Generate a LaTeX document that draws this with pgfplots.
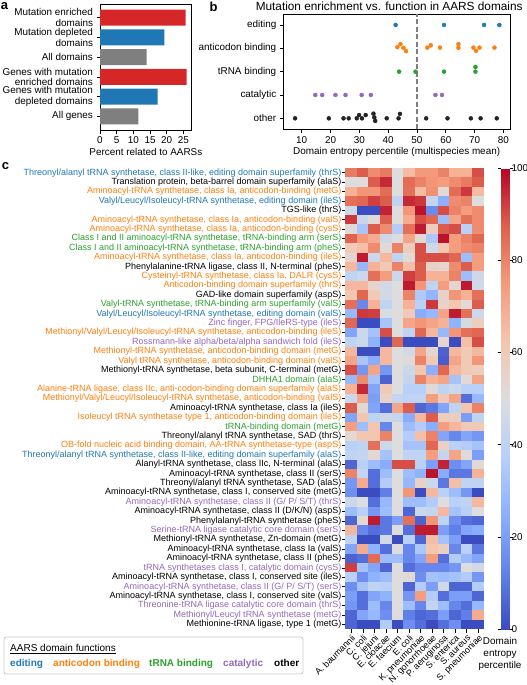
\documentclass[border=0pt]{standalone}
\usepackage{fontspec}
\setmainfont{Liberation Sans}
\usepackage{pgfplots}
\usepackage{pgfplotstable}
\pgfplotsset{compat=1.18}
\pgfplotsset{/pgf/number format/assume math mode=true}
\definecolor{cB}{HTML}{1F77B4}
\definecolor{cO}{HTML}{FF7F0E}
\definecolor{cG}{HTML}{2CA02C}
\definecolor{cP}{HTML}{9467BD}
\definecolor{cK}{HTML}{222222}
\definecolor{cR}{HTML}{D62728}
\definecolor{cGr}{HTML}{7F7F7F}
\newcommand{\fa}{\fontsize{9.9}{10.6}\selectfont}
\newcommand{\fb}{\fontsize{9}{9.4}\selectfont}
\newcommand{\lB}[1]{\textcolor{cB}{#1}}
\newcommand{\lO}[1]{\textcolor{cO}{#1}}
\newcommand{\lG}[1]{\textcolor{cG}{#1}}
\newcommand{\lP}[1]{\textcolor{cP}{#1}}
\newcommand{\lK}[1]{\textcolor{black}{#1}}
\pgfdeclareplotmark{cell}{\pgfpathrectangle{\pgfpoint{-5.9pt}{-4.8pt}}{\pgfpoint{11.8pt}{9.6pt}}\pgfusepathqfill}
\pgfplotsset{discard if/.style 2 args={x filter/.code={\edef\tempa{\thisrow{#1}}\edef\tempb{#2}\ifx\tempa\tempb\def\pgfmathresult{inf}\fi}}}
\pgfplotsset{heat/.style={scatter, only marks, mark=cell, scatter src=explicit,
  scatter/use mapped color={draw=mapped color, fill=mapped color}}}

\pgfplotstableread{
r c1 c2 c3 c4 c5 c6 c7 c8 c9 c10 c11 c12
1 82 88 78 82 50 65 75 75 80 68 68 90
2 50 50 88 95 50 85 80 76 74 78 82 88
3 68 76 76 85 50 84 65 77 52 85 93 65
4 84 86 92 88 40 95 93 42 25 78 80 50
5 45 -1 -1 96 50 76 98 15 90 80 74 78
6 93 43 52 88 50 70 90 86 30 72 84 78
7 52 33 88 78 36 84 97 58 88 90 38 78
8 87 75 70 45 50 72 52 34 98 74 80 86
9 60 64 78 52 80 58 90 45 62 74 78 80
10 54 97 44 66 40 52 90 90 90 86 30 74
11 66 28 68 60 80 64 88 56 54 78 88 74
12 40 44 84 74 44 92 88 68 68 80 30 45
13 66 66 54 46 50 97 76 40 74 54 97 46
14 62 86 60 46 50 80 35 27 56 76 68 84
15 84 14 68 40 50 68 38 93 56 62 52 88
16 28 93 92 48 50 60 24 28 72 97 84 44
17 86 -1 -1 33 50 72 76 72 68 26 47 58
18 22 44 32 90 50 40 86 66 28 76 84 86
19 40 44 26 -1 86 -1 -1 -1 54 -1 64 90
20 66 -1 -1 66 50 46 72 54 5 66 60 66
21 72 33 24 66 50 52 80 60 4 72 60 76
22 90 18 72 18 50 44 62 25 86 66 60 58
23 28 78 32 5 50 42 80 68 72 32 52 72
24 68 95 22 60 50 38 38 52 40 44 38 38
25 44 72 20 56 42 40 40 74 60 72 8 28
26 88 53 22 8 72 88 6 10 22 40 62 80
27 22 62 40 44 42 24 66 88 58 58 20 40
28 74 30 62 14 50 30 36 24 74 66 60 60
29 53 62 62 80 50 36 64 80 22 14 22 18
30 38 40 84 44 50 32 32 86 57 38 36 32
31 40 42 53 32 50 40 40 74 42 72 52 20
32 6 38 30 24 90 90 38 20 96 16 22 52
33 80 42 8 30 50 30 26 98 24 10 10 68
34 18 70 8 36 50 28 56 44 10 64 40 40
35 16 -1 -1 12 50 76 -1 66 38 30 18 -1
36 44 50 8 28 50 30 30 36 50 38 40 66
37 30 38 18 30 50 6 44 42 66 32 38 50
38 6 52 97 10 20 84 5 76 40 16 8 6
39 66 14 8 10 50 8 97 97 20 12 22 24
40 40 -1 -1 46 -1 38 6 64 32 20 -1 -1
41 22 70 26 8 50 14 34 62 58 14 38 10
42 5 8 85 30 30 14 22 74 8 36 28 22
43 92 32 22 6 50 8 14 14 14 18 50 46
44 38 16 26 30 50 52 16 32 30 32 36 18
45 16 32 40 38 50 6 36 20 46 6 6 36
46 20 8 22 26 50 18 74 36 8 20 20 6
47 18 8 30 14 50 30 14 42 30 14 8 28
48 6 22 28 16 50 12 6 8 20 6 12 70
49 6 -1 -1 36 -1 16 8 -1 8 16 -1 -1
}\heat

\begin{document}
\begin{tikzpicture}
\path[use as bounding box] (0pt,0pt) rectangle (527pt,-685pt);

% ---------------- panel a
\begin{axis}[
  scale only axis, at={(100pt,-4pt)}, anchor=north west,
  width=91.7pt, height=126pt,
  xmin=0, xmax=27.5, ymin=-0.69, ymax=5.69, y dir=reverse,
  xbar, bar width=16pt, bar shift=0pt,
  xtick={0,5,10,15,20,25},
  ytick={0,1,2,3,4,5},
  yticklabels={{Mutation enriched\\domains},{Mutation depleted\\domains},{All domains},{Genes with mutation\\enriched domains},{Genes with mutation\\depleted domains},{All genes}},
  yticklabel style={align=right, font=\fa},
  xticklabel style={font=\fa},
  tick align=outside, tick pos=left, major tick length=3.5pt,
  tick style={black, line width=0.6pt},
  axis line style={black, line width=0.7pt},
  xlabel={Percent related to AARSs},
  xlabel style={font=\fa, yshift=3pt},
]
\addplot[fill=cR, draw=none] coordinates {(25.7,0) (26.0,3)};
\addplot[fill=cB, draw=none] coordinates {(19.3,1) (17.3,4)};
\addplot[fill=cGr, draw=none] coordinates {(14.0,2) (11.5,5)};
\end{axis}

% ---------------- panel b
\begin{axis}[
  scale only axis, at={(283.3pt,-14pt)}, anchor=north west,
  width=226.7pt, height=115.3pt,
  xmin=3.6, xmax=82.3, ymin=-0.47, ymax=4.47,
  xtick={10,20,...,80}, ytick={0,1,2,3,4},
  yticklabels={other, catalytic, tRNA binding, anticodon binding, editing},
  ticklabel style={font=\fa},
  tick align=outside, tick pos=left, major tick length=3.5pt,
  tick style={black, line width=0.6pt},
  axis line style={black, line width=0.7pt},
  title={Mutation enrichment vs. function in AARS domains},
  every axis title/.style={font=\fontsize{11.8}{13}\selectfont, at={(0.5,1)}, anchor=base, yshift=3.2pt, xshift=-7.5pt, inner sep=0pt},
  xlabel={Domain entropy percentile (multispecies mean)},
  xlabel style={font=\fa, yshift=3pt},
]
\addplot[cGr, dashed, line width=1.2pt, dash pattern=on 5pt off 2.5pt] coordinates {(50,-0.47) (50,4.47)};
\addplot[only marks, mark=*, mark size=2pt, color=cB] coordinates {
 (42.6,4) (59.4,4) (73.3,4) (78.6,4)};
\addplot[only marks, mark=*, mark size=2pt, color=cO] coordinates {
 (43.2,3.05) (44.3,3.18) (45.3,3.02) (46.2,2.88) (53.6,3.03) (54.8,3.13) (58.0,3.03)
 (64.4,3.18) (64.4,3.02) (69.6,3.03) (70.5,2.89) (71.7,3.03) (76.9,3.03)};
\addplot[only marks, mark=*, mark size=2pt, color=cG] coordinates {
 (43.8,2) (49.5,2) (59.4,2) (70.3,2.2) (70.3,2)};
\addplot[only marks, mark=*, mark size=2pt, color=cP] coordinates {
 (14.7,1) (17.1,1) (21.7,1) (25.2,1) (30.8,1) (34.0,1) (56.4,1) (58.7,1)};
\addplot[only marks, mark=*, mark size=2pt, color=cK] coordinates {
 (7.7,0) (19.4,0) (24.5,0) (26.3,0) (29.1,0) (29.9,0.14) (30.9,0) (32.2,0.14)
 (34.9,0.2) (35.2,0.04) (35.5,-0.11) (39.5,0) (43.6,0) (44.1,0.19)
 (53.2,0) (60.6,0) (68.7,0) (72.1,0) (77.7,0)};
\end{axis}

% ---------------- panel c
\begin{axis}[
  scale only axis, at={(345.5pt,-168pt)}, anchor=north west,
  width=138.5pt, height=461pt,
  xmin=-0.5, xmax=11.5, ymin=0.5, ymax=49.5, y dir=reverse,
  axis line style={draw=none},
  xtick={0,...,11},
  xticklabels={A. baumannii, C. coli, C. jejuni, E. cloacae, E. faecium, E. coli, K. pneumoniae, N. gonorrhoeae, P. aeruginosa, S. enterica, S. aureus, S. pneumoniae},
  xticklabel style={rotate=45, anchor=north east, font=\fb, inner sep=1pt},
  ytick={1,...,49},
  yticklabels={
{\lB{Threonyl/alanyl tRNA synthetase, class II-like, editing domain superfamily (thrS)}},
{\lK{Translation protein, beta-barrel domain superfamily (alaS)}},
{\lO{Aminoacyl-tRNA synthetase, class Ia, anticodon-binding (metG)}},
{\lB{Valyl/Leucyl/Isoleucyl-tRNA synthetase, editing domain (ileS)}},
{\lK{TGS-like (thrS)}},
{\lO{Aminoacyl-tRNA synthetase, class Ia, anticodon-binding (valS)}},
{\lO{Aminoacyl-tRNA synthetase, class Ia, anticodon-binding (cysS)}},
{\lG{Class I and II aminoacyl-tRNA synthetase, tRNA-binding arm (serS)}},
{\lG{Class I and II aminoacyl-tRNA synthetase, tRNA-binding arm (pheS)}},
{\lO{Aminoacyl-tRNA synthetase, class Ia, anticodon-binding (ileS)}},
{\lK{Phenylalanine-tRNA ligase, class II, N-terminal (pheS)}},
{\lO{Cysteinyl-tRNA synthetase, class Ia, DALR (cysS)}},
{\lO{Anticodon-binding domain superfamily (thrS)}},
{\lK{GAD-like domain superfamily (aspS)}},
{\lG{Valyl-tRNA synthetase, tRNA-binding arm superfamily (valS)}},
{\lB{Valyl/Leucyl/Isoleucyl-tRNA synthetase, editing domain (valS)}},
{\lP{Zinc finger, FPG/IleRS-type (ileS)}},
{\lO{Methionyl/Valyl/Leucyl/Isoleucyl-tRNA synthetase, anticodon-binding (ileS)}},
{\lP{Rossmann-like alpha/beta/alpha sandwich fold (ileS)}},
{\lO{Methionyl-tRNA synthetase, anticodon-binding domain (metG)}},
{\lO{Valyl tRNA synthetase, anticodon-binding domain (valS)}},
{\lK{Methionyl-tRNA synthetase, beta subunit, C-terminal (metG)}},
{\lG{DHHA1 domain (alaS)}},
{\lO{Alanine-tRNA ligase, class IIc, anti-codon-binding domain superfamily (alaS)}},
{\lO{Methionyl/Valyl/Leucyl/Isoleucyl-tRNA synthetase, anticodon-binding (valS)}},
{\lK{Aminoacyl-tRNA synthetase, class Ia (ileS)}},
{\lO{Isoleucyl tRNA synthetase type 1, anticodon-binding domain (ileS)}},
{\lG{tRNA-binding domain (metG)}},
{\lK{Threonyl/alanyl tRNA synthetase, SAD (thrS)}},
{\lO{OB-fold nucleic acid binding domain, AA-tRNA synthetase-type (aspS)}},
{\lB{Threonyl/alanyl tRNA synthetase, class II-like, editing domain superfamily (alaS)}},
{\lK{Alanyl-tRNA synthetase, class IIc, N-terminal (alaS)}},
{\lK{Aminoacyl-tRNA synthetase, class II (serS)}},
{\lK{Threonyl/alanyl tRNA synthetase, SAD (alaS)}},
{\lK{Aminoacyl-tRNA synthetase, class I, conserved site (metG)}},
{\lP{Aminoacyl-tRNA synthetase, class II (G/ P/ S/T) (thrS)}},
{\lK{Aminoacyl-tRNA synthetase, class II (D/K/N) (aspS)}},
{\lK{Phenylalanyl-tRNA synthetase (pheS)}},
{\lP{Serine-tRNA ligase catalytic core domain (serS)}},
{\lK{Methionyl-tRNA synthetase, Zn-domain (metG)}},
{\lK{Aminoacyl-tRNA synthetase, class Ia (valS)}},
{\lK{Aminoacyl-tRNA synthetase, class II (pheS)}},
{\lP{tRNA synthetases class I, catalytic domain (cysS)}},
{\lK{Aminoacyl-tRNA synthetase, class I, conserved site (ileS)}},
{\lP{Aminoacyl-tRNA synthetase, class II (G/ P/ S/T) (serS)}},
{\lK{Aminoacyl-tRNA synthetase, class I, conserved site (valS)}},
{\lP{Threonine-tRNA ligase catalytic core domain (thrS)}},
{\lP{Methionyl/Leucyl tRNA synthetase (metG)}},
{\lK{Methionine-tRNA ligase, type 1 (metG)}}},
  yticklabel style={font=\fb, inner sep=0.5pt},
  tick align=outside, tick pos=left, major tick length=3.5pt,
  tick style={black, line width=0.6pt},
  colormap={cw}{rgb255=(59,76,192) rgb255=(98,130,234) rgb255=(141,176,254) rgb255=(184,208,249) rgb255=(221,221,221) rgb255=(245,196,173) rgb255=(244,154,123) rgb255=(222,96,77) rgb255=(180,4,38)},
  point meta min=0, point meta max=100,
  colorbar,
  colorbar style={
    at={(parent axis.north east)}, anchor=north west, xshift=8.7pt,
    scale only axis, width=8.6pt,
    axis line style={draw=none},
    ytick={0,20,40,60,80,100},
    yticklabel style={font=\fa, inner sep=0.5pt, anchor=west, xshift=-2.5pt},
    major tick length=3.5pt, tick align=outside,
    tick style={black, line width=0.6pt},
  },
]
\addplot[heat, discard if={c1}{-1}] table[x expr=0, y=r, meta=c1] {\heat};
\addplot[heat, discard if={c2}{-1}] table[x expr=1, y=r, meta=c2] {\heat};
\addplot[heat, discard if={c3}{-1}] table[x expr=2, y=r, meta=c3] {\heat};
\addplot[heat, discard if={c4}{-1}] table[x expr=3, y=r, meta=c4] {\heat};
\addplot[heat, discard if={c5}{-1}] table[x expr=4, y=r, meta=c5] {\heat};
\addplot[heat, discard if={c6}{-1}] table[x expr=5, y=r, meta=c6] {\heat};
\addplot[heat, discard if={c7}{-1}] table[x expr=6, y=r, meta=c7] {\heat};
\addplot[heat, discard if={c8}{-1}] table[x expr=7, y=r, meta=c8] {\heat};
\addplot[heat, discard if={c9}{-1}] table[x expr=8, y=r, meta=c9] {\heat};
\addplot[heat, discard if={c10}{-1}] table[x expr=9, y=r, meta=c10] {\heat};
\addplot[heat, discard if={c11}{-1}] table[x expr=10, y=r, meta=c11] {\heat};
\addplot[heat, discard if={c12}{-1}] table[x expr=11, y=r, meta=c12] {\heat};
\end{axis}

% colorbar label
\node[align=center, font=\fontsize{9.9}{12}\selectfont] at (500pt,-653.5pt) {Domain\\entropy\\percentile};

% legend box
\draw[rounded corners=2.5pt, draw=black!20, line width=0.9pt] (4pt,-637pt) rectangle (303pt,-674pt);
\node[anchor=base west, inner sep=0pt, font=\fontsize{10}{12}\selectfont] at (10pt,-651.5pt) {\underline{AARS domain functions}};
\node[anchor=base west, inner sep=0pt, font=\fontsize{10}{12}\selectfont\bfseries, text=cB] at (10pt,-666.5pt) {editing};
\node[anchor=base west, inner sep=0pt, font=\fontsize{10}{12}\selectfont\bfseries, text=cO] at (53pt,-666.5pt) {anticodon binding};
\node[anchor=base west, inner sep=0pt, font=\fontsize{10}{12}\selectfont\bfseries, text=cG] at (149pt,-666.5pt) {tRNA binding};
\node[anchor=base west, inner sep=0pt, font=\fontsize{10}{12}\selectfont\bfseries, text=cP] at (223pt,-666.5pt) {catalytic};
\node[anchor=base west, inner sep=0pt, font=\fontsize{10}{12}\selectfont\bfseries, text=black] at (274pt,-666.5pt) {other};

% panel letters
\node[font=\fontsize{13}{14}\selectfont\bfseries] at (4.5pt,-6pt) {a};
\node[font=\fontsize{13}{14}\selectfont\bfseries] at (213.5pt,-7pt) {b};
\node[font=\fontsize{13}{14}\selectfont\bfseries] at (5.5pt,-166pt) {c};
\end{tikzpicture}
\end{document}
